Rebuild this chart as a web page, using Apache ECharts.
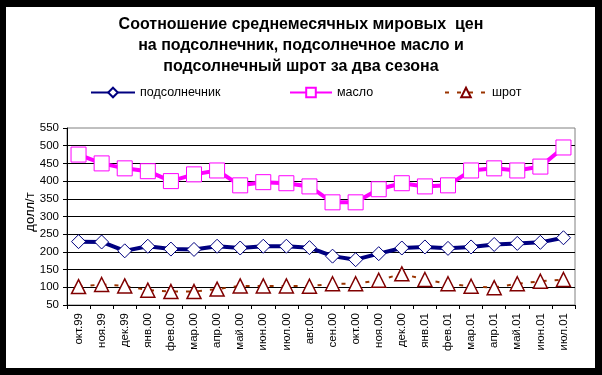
<!DOCTYPE html>
<html>
<head>
<meta charset="utf-8">
<script src="https://cdn.jsdelivr.net/npm/echarts@6/dist/echarts.min.js"></script>
<style>
html,body{margin:0;padding:0;background:#fff;}
#c{width:602px;height:375px;}
</style>
</head>
<body>
<div id="c"></div>
<script>
const categories = ['окт.99','ноя.99','дек.99','янв.00','фев.00','мар.00','апр.00','май.00','июн.00','июл.00','авг.00','сен.00','окт.00','ноя.00','дек.00','янв.01','фев.01','мар.01','апр.01','май.01','июн.01','июл.01'];
const sunflower = [229,228,203,216,208,207,216,211,216,216,212,188,178,195,211,214,210,214,221,224,227,240];
const oil = [475,450,436,428,400,419,430,388,397,394,385,340,340,377,394,385,388,430,436,430,441,495];
const meal = [102,108,104,92,88,88,95,104,104,104,103,110,110,120,138,122,110,103,99,110,117,122];
const seriesNames = ['подсолнечник','масло','шрот'];
const yName = 'долл/т';
const titleText = 'Соотношение среднемесячных мировых  цен\nна подсолнечник, подсолнечное масло и\nподсолнечный шрот за два сезона';

const FONT = '"Liberation Sans", Arial, sans-serif';
const chart = echarts.init(document.getElementById('c'));
const legendText = {fontFamily: FONT, fontSize: 12.5, color: '#000'};
chart.setOption({
  animation: false,
  backgroundColor: '#fff',
  title: {
    text: titleText,
    left: 'center',
    top: 14,
    padding: 0,
    textStyle: {fontFamily: FONT, fontSize: 16, fontWeight: 'bold', color: '#000', lineHeight: 21}
  },
  legend: [
    {data: [seriesNames[0]], left: 90, top: 86, padding: 0, itemWidth: 44, itemHeight: 12, textStyle: legendText, selectedMode: false},
    {data: [seriesNames[1]], left: 289, top: 86, padding: 0, itemWidth: 42, itemHeight: 12, textStyle: legendText, selectedMode: false},
    {data: [seriesNames[2]], left: 444, top: 86, padding: 0, itemWidth: 42, itemHeight: 12, textStyle: legendText, selectedMode: false}
  ],
  grid: {left: 67, top: 128, width: 508, height: 177, show: true, borderColor: '#808080', borderWidth: 1, backgroundColor: 'transparent'},
  xAxis: {
    type: 'category',
    data: categories,
    boundaryGap: true,
    axisLine: {show: true, lineStyle: {color: '#000', width: 1}},
    axisTick: {show: true, length: 4, lineStyle: {color: '#000'}},
    axisLabel: {rotate: 90, margin: 8, fontFamily: FONT, fontSize: 11.5, color: '#000', interval: 0},
    splitLine: {show: false}
  },
  yAxis: {
    type: 'value',
    min: 50, max: 550, interval: 50,
    axisLine: {show: true, lineStyle: {color: '#000', width: 1}},
    axisTick: {show: true, length: 4, lineStyle: {color: '#000'}},
    axisLabel: {margin: 8, fontFamily: FONT, fontSize: 11.5, color: '#000'},
    splitLine: {show: true, showMinLine: false, showMaxLine: false, lineStyle: {color: '#000', width: 1}}
  },
  series: [
    {
      name: seriesNames[0], type: 'line', data: sunflower,
      symbol: 'diamond', symbolSize: 14,
      lineStyle: {color: '#000080', width: 4},
      itemStyle: {color: '#fff', borderColor: '#000080', borderWidth: 1},
      z: 3
    },
    {
      name: seriesNames[1], type: 'line', data: oil,
      symbol: 'rect', symbolSize: 15,
      lineStyle: {color: '#FF00FF', width: 4},
      itemStyle: {color: '#fff', borderColor: '#FF00FF', borderWidth: 1},
      z: 3
    },
    {
      name: seriesNames[2], type: 'line', data: meal,
      symbol: 'triangle', symbolSize: 14,
      lineStyle: {color: '#993300', width: 2, type: [4, 8]},
      itemStyle: {color: '#fff', borderColor: '#800000', borderWidth: 1.5},
      z: 3
    }
  ],
  graphic: [
    {type: 'text', x: 30, y: 212, rotation: Math.PI / 2,
     style: {text: yName, fontFamily: FONT, fontSize: 13, fill: '#000', align: 'center', verticalAlign: 'middle'}},
    {type: 'rect', shape: {x: 0, y: 0, width: 602, height: 7}, style: {fill: '#000'}},
    {type: 'rect', shape: {x: 0, y: 0, width: 6, height: 375}, style: {fill: '#000'}},
    {type: 'rect', shape: {x: 595, y: 0, width: 7, height: 375}, style: {fill: '#000'}},
    {type: 'rect', shape: {x: 0, y: 368, width: 602, height: 7}, style: {fill: '#000'}}
  ]
});
</script>
</body>
</html>
